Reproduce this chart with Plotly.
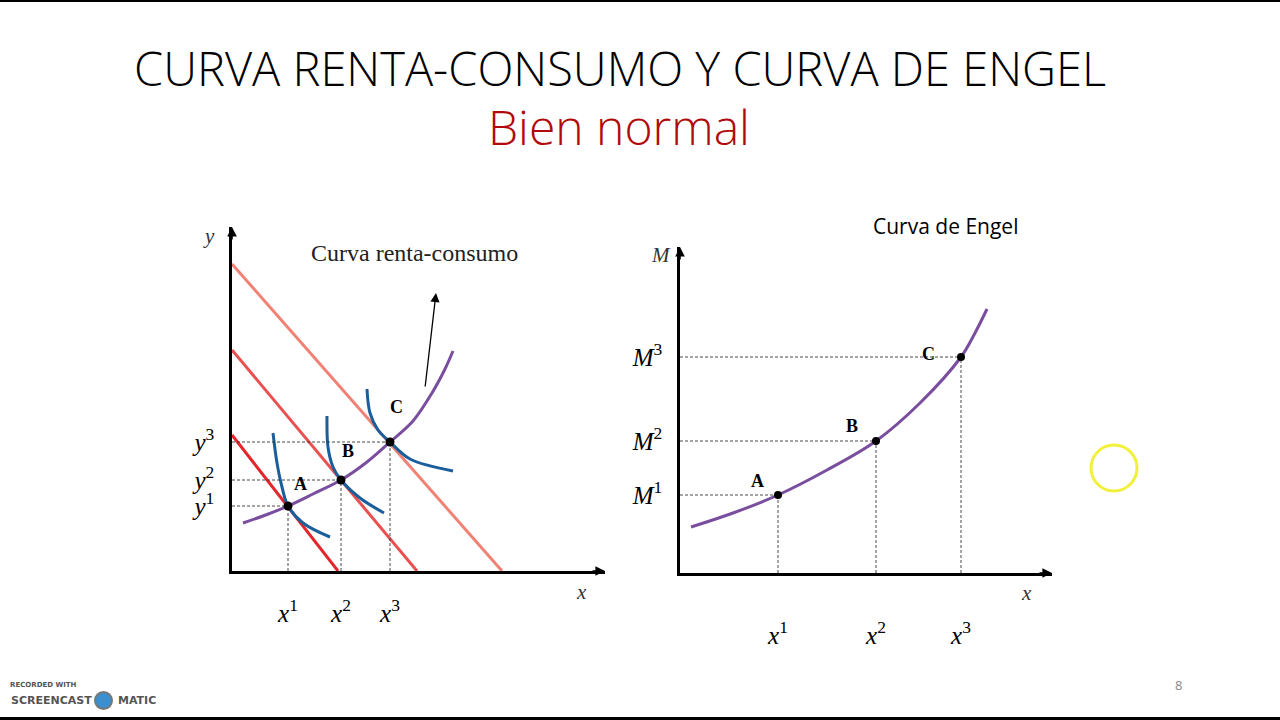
import plotly.graph_objects as go

# ---------------- data (economic units) ----------------
# Left panel: budget lines (intercepts), equilibrium points, curves
budget_y_int = [13.6, 22.1, 30.7]
budget_x_int = [10.6, 18.5, 27.0]
budget_colors = ["#E3262C", "#E9504F", "#F08275"]

pt_labels = ["A", "B", "C"]
pts_x = [5.6, 10.9, 15.8]
pts_y = [6.5, 9.1, 12.9]

icc_x = [1.1, 3.5, 5.6, 8.1, 10.9, 13.5, 15.8, 18.1, 20.0, 21.3, 22.1]
icc_y = [4.8, 5.65, 6.5, 7.7, 9.1, 10.9, 12.9, 15.0, 17.8, 20.2, 22.0]

ic1_x = [4.1, 4.5, 5.0, 5.6, 7.1, 9.8]
ic1_y = [13.8, 10.8, 8.4, 6.5, 4.8, 3.4]
ic2_x = [9.5, 9.6, 10.1, 10.9, 12.8, 15.2]
ic2_y = [15.5, 12.4, 10.4, 9.1, 7.3, 5.8]
ic3_x = [13.5, 13.8, 14.6, 15.8, 17.8, 22.1]
ic3_y = [18.2, 15.8, 14.1, 12.9, 11.2, 10.0]

arrow_tail = (19.3, 18.3)
arrow_tip = (20.4, 27.8)

left_x_ticks = ["<i>x</i><sup>1</sup>", "<i>x</i><sup>2</sup>", "<i>x</i><sup>3</sup>"]
left_y_ticks = ["<i>y</i><sup>1</sup>", "<i>y</i><sup>2</sup>", "<i>y</i><sup>3</sup>"]

# Right panel: Engel curve
engel_pts_x = [9.8, 19.6, 28.1]
engel_pts_M = [7.8, 13.2, 21.6]
engel_x = [1.1, 5.3, 9.8, 14.7, 19.6, 24.0, 28.1, 29.5, 30.7]
engel_M = [4.6, 6.0, 7.8, 10.3, 13.2, 17.0, 21.6, 24.0, 26.4]
right_x_ticks = ["<i>x</i><sup>1</sup>", "<i>x</i><sup>2</sup>", "<i>x</i><sup>3</sup>"]
right_y_ticks = ["<i>M</i><sup>1</sup>", "<i>M</i><sup>2</sup>", "<i>M</i><sup>3</sup>"]

W, H = 1280, 720


def pp(xp, yp):
    return xp / W, 1 - yp / H


PURPLE = "#7A4E9E"
BLUE = "#1A5E9C"
SERIF = "Liberation Serif"

fig = go.Figure()

# ---------- left panel ----------
for yi, xi, c in zip(budget_y_int, budget_x_int, budget_colors):
    fig.add_trace(go.Scatter(x=[0, xi], y=[yi, 0], mode="lines",
                             line=dict(color=c, width=3), xaxis="x", yaxis="y",
                             hoverinfo="skip"))
for xs, ys in [(ic1_x, ic1_y), (ic2_x, ic2_y), (ic3_x, ic3_y)]:
    fig.add_trace(go.Scatter(x=xs, y=ys, mode="lines",
                             line=dict(color=BLUE, width=3, shape="spline"),
                             xaxis="x", yaxis="y", hoverinfo="skip"))
fig.add_trace(go.Scatter(x=icc_x, y=icc_y, mode="lines",
                         line=dict(color=PURPLE, width=3, shape="spline"),
                         xaxis="x", yaxis="y", hoverinfo="skip"))
for x0, y0 in zip(pts_x, pts_y):
    fig.add_trace(go.Scatter(x=[x0, x0, None, 0, x0], y=[0, y0, None, y0, y0],
                             mode="lines", line=dict(color="#333", width=0.9, dash="3px,2px"),
                             xaxis="x", yaxis="y", hoverinfo="skip"))
fig.add_trace(go.Scatter(x=pts_x, y=pts_y, mode="markers",
                         marker=dict(color="black", size=9),
                         xaxis="x", yaxis="y", hoverinfo="skip"))

# ---------- right panel ----------
fig.add_trace(go.Scatter(x=engel_x, y=engel_M, mode="lines",
                         line=dict(color=PURPLE, width=3, shape="spline"),
                         xaxis="x2", yaxis="y2", hoverinfo="skip"))
for x0, y0 in zip(engel_pts_x, engel_pts_M):
    fig.add_trace(go.Scatter(x=[x0, x0, None, 0, x0], y=[0, y0, None, y0, y0],
                             mode="lines", line=dict(color="#333", width=0.9, dash="3px,2px"),
                             xaxis="x2", yaxis="y2", hoverinfo="skip"))
fig.add_trace(go.Scatter(x=engel_pts_x, y=engel_pts_M, mode="markers",
                         marker=dict(color="black", size=8),
                         xaxis="x2", yaxis="y2", hoverinfo="skip"))

tickfont = dict(family=SERIF, size=25, color="black")
axis_common = dict(showgrid=False, zeroline=False, showline=True, linecolor="black",
                   linewidth=2.5, ticks="", tickfont=tickfont, fixedrange=True)

fig.update_layout(
    width=W, height=H, margin=dict(l=0, r=0, t=0, b=0),
    paper_bgcolor="white", plot_bgcolor="rgba(0,0,0,0)", showlegend=False,
    xaxis=dict(domain=[232 / W, 605 / W], range=[0, 37.3], anchor="y",
               tickvals=pts_x, ticktext=left_x_ticks, ticklabelstandoff=18, **axis_common),
    yaxis=dict(domain=[1 - 571 / H, 1 - 227 / H], range=[0, 34.4], anchor="x",
               tickvals=pts_y, ticktext=left_y_ticks, ticklabelstandoff=10, **axis_common),
    xaxis2=dict(domain=[680 / W, 1052 / W], range=[0, 37.2], anchor="y2",
                tickvals=engel_pts_x, ticktext=right_x_ticks, ticklabelstandoff=38, **axis_common),
    yaxis2=dict(domain=[1 - 573 / H, 1 - 247 / H], range=[0, 32.6], anchor="x2",
                tickvals=engel_pts_M, ticktext=right_y_ticks, ticklabelstandoff=10, **axis_common),
)

ann = []
# axis arrowheads
for xr, yr, xt, yt in [("x", "y", 37.3, 0), ("x", "y", 0, 34.4),
                       ("x2", "y2", 37.2, 0), ("x2", "y2", 0, 32.6)]:
    ax, ay = (-14, 0) if yt == 0 else (0, 14)
    ann.append(dict(x=xt, y=yt, xref=xr, yref=yr, ax=ax, ay=ay, text="",
                    showarrow=True, arrowhead=2, arrowsize=1.2, arrowwidth=1.6,
                    arrowcolor="black"))
# income-consumption direction arrow
ann.append(dict(x=arrow_tip[0], y=arrow_tip[1], ax=arrow_tail[0], ay=arrow_tail[1],
                xref="x", yref="y", axref="x", ayref="y", text="", showarrow=True,
                arrowhead=2, arrowsize=1.4, arrowwidth=1.3, arrowcolor="black"))


def label(text, xp, yp, font):
    x, y = pp(xp, yp)
    ann.append(dict(x=x, y=y, xref="paper", yref="paper", text=text, showarrow=False,
                    xanchor="center", yanchor="middle", font=font))


# point labels
lbl_font = dict(family=SERIF, size=18, color="black", weight="bold")
for lab, (xp, yp) in zip(pt_labels, [(300, 484), (348, 451), (396, 407)]):
    label(lab, xp, yp, lbl_font)
for lab, (xp, yp) in zip(pt_labels, [(757, 481), (852, 426), (928, 354)]):
    label(lab, xp, yp, lbl_font)

# axis names
ax_font = dict(family=SERIF, size=21, color="#333", style="italic")
for t, (xp, yp) in [("y", (209, 236)), ("x", (581, 592)), ("M", (661, 255)), ("x", (1026, 593))]:
    label(t, xp, yp, ax_font)

# panel captions
label("Curva renta-consumo", 414, 253, dict(family=SERIF, size=24, color="#222"))
label("Curva de Engel", 945, 226, dict(family="Open Sans", size=21, color="black"))

# titles
label("CURVA RENTA-CONSUMO Y CURVA DE ENGEL", 620, 68,
      dict(family="Open Sans", size=47, color="black", weight=300))
label("Bien normal", 619, 126, dict(family="Open Sans", size=48, color="#B00A0A", weight=300))

# page number and recorder watermark
label("8", 1178, 685, dict(family="Open Sans", size=13, color="#888"))
label("RECORDED WITH", 43, 685, dict(family="DejaVu Sans", size=7, color="#555", weight="bold"))
label("SCREENCAST", 51, 700, dict(family="DejaVu Sans", size=11, color="#555", weight="bold"))
label("MATIC", 137, 700, dict(family="DejaVu Sans", size=11, color="#555", weight="bold"))

fig.update_layout(annotations=ann)

shapes = [
    dict(type="rect", xref="paper", yref="paper", x0=0, x1=1, y0=1 - 2 / H, y1=1,
         fillcolor="black", line=dict(width=0)),
    dict(type="rect", xref="paper", yref="paper", x0=0, x1=1, y0=0, y1=3 / H,
         fillcolor="black", line=dict(width=0)),
    dict(type="circle", xref="paper", yref="paper", x0=1091 / W, x1=1137 / W,
         y0=1 - 491 / H, y1=1 - 445 / H, line=dict(color="#F2F03A", width=3)),
    dict(type="circle", xref="paper", yref="paper", x0=95 / W, x1=112 / W,
         y0=1 - 709 / H, y1=1 - 692 / H, line=dict(color="#777", width=2),
         fillcolor="#3A8FD0"),
]
fig.update_layout(shapes=shapes)

fig.write_html("out.html", config={"displayModeBar": False},
               post_script="document.body.style.margin='0';document.body.style.overflow='hidden';")
